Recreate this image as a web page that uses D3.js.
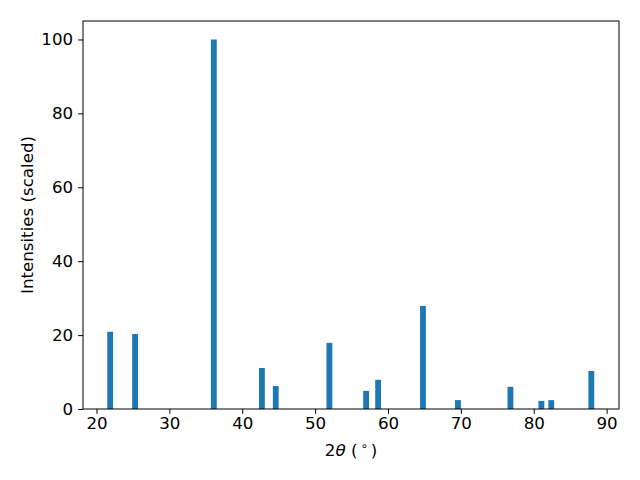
<!DOCTYPE html>
<html><head><meta charset="utf-8">
<script src="https://cdn.jsdelivr.net/npm/d3@7"></script>
<style>body{margin:0;background:#fff}svg{display:block}text{font-family:"DejaVu Sans",sans-serif}</style>
</head><body>
<script>
const angles = [21.88, 25.3, 36.1, 42.7, 44.6, 51.96, 57.0, 58.65, 64.8, 69.6, 76.8, 81.05, 82.4, 87.9];
const intensities = [20.9, 20.3, 100, 11.1, 6.2, 17.9, 4.9, 7.9, 27.9, 2.4, 6.0, 2.2, 2.4, 10.3];
const xTicks = [20, 30, 40, 50, 60, 70, 80, 90];
const yTicks = [0, 20, 40, 60, 80, 100];
const barWidth = 0.8;

const W = 640, H = 480;
const FS = "16.67px";
const m = {left: 83, right: 619, top: 21, bottom: 409};
const svg = d3.select("body").append("svg").attr("width", W).attr("height", H);
const x = d3.scaleLinear().domain([18.15, 91.7]).range([m.left, m.right]);
const y = d3.scaleLinear().domain([0, 105]).range([m.bottom, m.top]);

svg.append("g").selectAll("rect").data(angles).join("rect")
  .attr("x", (d) => x(d - barWidth / 2))
  .attr("width", (d) => x(d + barWidth / 2) - x(d - barWidth / 2))
  .attr("y", (d, i) => y(intensities[i]))
  .attr("height", (d, i) => y(0) - y(intensities[i]))
  .attr("fill", "#1f77b4");

const xa = svg.append("g").attr("transform", `translate(0,${m.bottom})`)
  .call(d3.axisBottom(x).tickValues(xTicks).tickSize(4.9).tickPadding(3).tickFormat(d3.format("d")));
const ya = svg.append("g").attr("transform", `translate(${m.left},0)`)
  .call(d3.axisLeft(y).tickValues(yTicks).tickSize(4.9).tickPadding(5).tickFormat(d3.format("d")));
[xa, ya].forEach(a => {
  a.attr("font-size", null).attr("font-family", null);
  a.select(".domain").remove();
  a.selectAll("line").attr("stroke", "#000").attr("stroke-width", 1);
  a.selectAll("text").style("font-size", FS).attr("fill", "#000").style("font-family", "DejaVu Sans, sans-serif");
});

svg.append("rect").attr("x", m.left).attr("y", m.top)
  .attr("width", m.right - m.left).attr("height", m.bottom - m.top)
  .attr("fill", "none").attr("stroke", "#000").attr("stroke-width", 1);

const xl = svg.append("text").attr("x", (m.left + m.right) / 2).attr("y", 456)
  .attr("text-anchor", "middle").style("font-size", FS);
xl.append("tspan").text("2");
xl.append("tspan").attr("font-style", "italic").text("θ");
xl.append("tspan").text(" (");
xl.append("tspan").style("font-size", "11.7px").attr("dx", 3).attr("dy", -6).text("∘");
xl.append("tspan").attr("dx", 3).attr("dy", 6).text(")");

svg.append("text").attr("transform", `translate(33,${(m.top + m.bottom) / 2}) rotate(-90)`)
  .attr("text-anchor", "middle").style("font-size", FS).text("Intensities (scaled)");
</script>
</body></html>
